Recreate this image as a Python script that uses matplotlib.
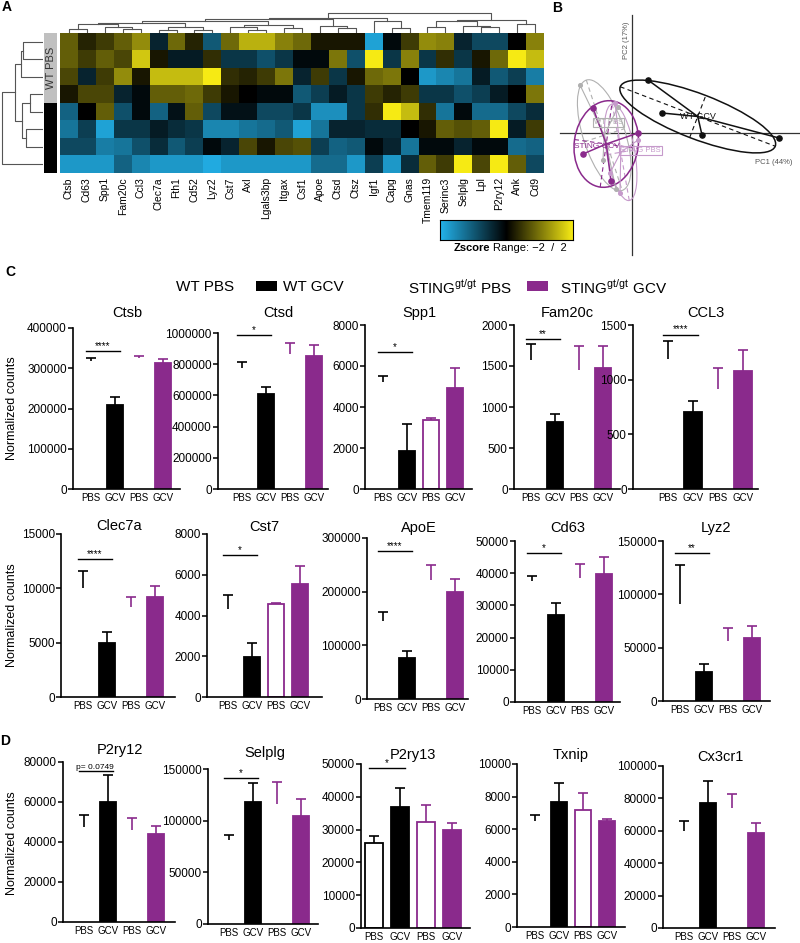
import matplotlib
matplotlib.use('Agg')
import matplotlib.pyplot as plt
import numpy as np
from matplotlib.colors import LinearSegmentedColormap, ListedColormap
from matplotlib.patches import Ellipse, Rectangle
from matplotlib.ticker import FuncFormatter

plt.rcParams['font.family'] = ['Liberation Sans', 'DejaVu Sans']
plt.rcParams['mathtext.fontset'] = 'custom'
plt.rcParams['mathtext.rm'] = 'Liberation Sans'
plt.rcParams['axes.linewidth'] = 1.2

PURPLE = '#8a2a8c'

# ---------------- A: heatmap data ----------------
heat_genes = ['Ctsb', 'Cd63', 'Spp1', 'Fam20c', 'Ccl3', 'Clec7a', 'Fth1', 'Cd52', 'Lyz2',
              'Cst7', 'Axl', 'Lgals3bp', 'Itgax', 'Csf1', 'Apoe', 'Ctsd', 'Ctsz', 'Igf1',
              'Capg', 'Gnas', 'Tmem119', 'Serinc3', 'Selplg', 'Lpl', 'P2ry12', 'Ank', 'Cd9']
zscores = [
    [0.8, 0.3, 0.5, 0.8, 1.2, -0.4, 0.9, 0.3, -1.0, 0.9, 1.5, 1.5, 1.1, 0.9, 0.2, 0.2, 0.2, -1.8, -0.1, 0.5, 1.2, 1.1, -0.4, -0.8, -0.8, 0.0, 1.1],
    [0.8, 0.5, 0.8, 0.6, 1.7, 0.2, -0.3, -0.3, 0.4, -0.6, -0.6, -0.9, -0.6, -0.1, -0.1, 1.0, -0.9, 2.0, -0.6, 1.1, -0.6, 0.4, -0.6, 0.2, 0.9, 2.0, 1.6],
    [0.6, -0.4, 0.5, 1.2, 0.2, 1.6, 1.6, 1.6, 2.0, 0.4, 0.3, 0.5, 1.0, -0.4, 0.5, -0.6, 0.2, 0.9, 1.0, 0.0, -1.7, -1.5, -1.3, -0.3, -1.0, -0.7, -1.4],
    [0.2, 0.6, 0.6, -0.4, -0.1, 0.8, 0.8, 0.9, 0.5, 0.2, 0.0, -0.1, -0.1, -1.0, -0.7, -0.3, -0.6, 0.5, 0.3, 0.5, -0.6, -0.6, -0.9, -0.7, -0.3, 0.0, 1.0],
    [-1.1, 0.0, 0.8, -0.9, -0.1, -1.1, -0.2, 0.8, -0.8, -0.2, -0.2, -0.8, -0.8, -0.6, -1.6, -1.6, -0.6, 0.4, 2.0, 1.6, 0.4, -1.3, -0.1, -1.2, -1.2, -0.8, -0.5],
    [-1.3, -0.7, -1.8, -0.6, -0.6, -0.3, -0.5, -0.6, -1.5, -1.5, -1.3, -1.2, -1.0, -1.8, -1.3, -0.4, -0.4, -0.5, -0.5, 0.0, 0.2, 0.8, 0.7, 0.8, 2.0, -0.3, 0.5],
    [-0.8, -0.8, -1.4, -1.3, -0.9, -0.5, -1.0, -0.7, -0.1, -0.4, 0.6, 0.2, 0.6, 0.7, -0.7, -1.1, -1.0, -0.1, -0.4, -1.3, -0.1, -0.1, -0.4, -0.1, -0.1, -1.2, -1.1],
    [-1.7, -1.7, -1.7, -1.1, -1.5, -1.7, -1.7, -1.7, -1.9, -1.7, -1.7, -1.7, -1.7, -1.7, -1.2, -1.2, -1.7, -0.7, -1.7, -0.5, 0.8, 0.5, 2.0, 0.6, 2.0, 0.8, -0.8],
]
row_groups = [0, 0, 0, 0, 1, 1, 1, 1]   # 0 = WT PBS, 1 = WT GCV

# dendrogram merges: (child a, child b, height); ids >= n are earlier merges
col_merges = [(0, 1, .19), (3, 4, .19), (2, 28, .29), (27, 29, .42), (5, 6, .17), (7, 8, .17),
              (31, 32, .29), (30, 33, .5), (10, 11, .17), (9, 35, .27), (12, 13, .23), (36, 37, .37),
              (15, 16, .23), (14, 39, .35), (34, 38, .58), (41, 40, .67), (18, 19, .23), (17, 43, .6),
              (42, 44, .73), (20, 21, .29), (23, 24, .27), (22, 47, .35), (46, 48, .58), (25, 26, .42),
              (49, 50, .65), (45, 51, 1.0)]
row_merges = [(0, 1, .48), (8, 2, .54), (3, 4, .32), (5, 6, .42), (10, 11, .52), (9, 12, .68), (13, 7, 1.0)]

# ---------------- B: PCA data ----------------
pca_groups = ['WT PBS', 'STING PBS', 'STING GCV', 'WT GCV']
pca_x = [[-5.2, -1.4, -2.9, -1.6], [-1.7, 0.6, -2.2, -1.2], [-3.9, 0.6, -4.9, -2.1], [1.6, 3.0, 7.0, 14.7]]
pca_y = [[4.8, 2.6, -2.7, -5.6], [3.0, -0.7, -4.0, -6.0], [2.5, 0.0, -2.1, -4.8], [5.3, 2.0, -0.2, -0.5]]

# ---------------- C/D: bar data ----------------
bar_genes = ['Ctsb', 'Ctsd', 'Spp1', 'Fam20c', 'CCL3', 'Clec7a', 'Cst7', 'ApoE', 'Cd63', 'Lyz2',
             'P2ry12', 'Selplg', 'P2ry13', 'Txnip', 'Cx3cr1']
wt_pbs = [318000, 775000, 5200, 1570, 1190, 10000, 4300, 145000, 37500, 91000, 47500, 81000, 26000, 6500, 60000]
wt_pbs_sd = [7000, 40000, 300, 200, 160, 1600, 700, 17000, 1500, 36500, 6000, 5000, 2000, 370, 6000]
wt_gcv = [209000, 612000, 1850, 820, 706, 4950, 1950, 76000, 27000, 27000, 60000, 118000, 37000, 7650, 77000]
wt_gcv_sd = [20000, 40000, 1300, 90, 95, 1050, 700, 13000, 3800, 8000, 13500, 18000, 5700, 1200, 13500]
st_pbs = [326000, 865000, 3350, 1450, 915, 8300, 4560, 222000, 38500, 56000, 46000, 116000, 32300, 7200, 74000]
st_pbs_sd = [5000, 70000, 130, 300, 195, 900, 60, 27000, 4300, 12000, 6000, 21000, 5300, 1000, 8500]
st_gcv = [313000, 855000, 4950, 1480, 1080, 9200, 5550, 199000, 39800, 59000, 43800, 104500, 29800, 6480, 58600]
st_gcv_sd = [10000, 65000, 950, 270, 195, 1050, 880, 24000, 5300, 11000, 4000, 16500, 2300, 150, 6000]
y_max = [400000, 1000000, 8000, 2000, 1500, 15000, 8000, 300000, 50000, 150000, 80000, 150000, 50000, 10000, 100000]
y_step = [100000, 200000, 2000, 500, 500, 5000, 2000, 100000, 10000, 50000, 20000, 50000, 10000, 2000, 20000]
sig_text = ['****', '*', '*', '**', '****', '****', '*', '****', '*', '**', 'p= 0.0749', '*', '*', '', '']
sig_y = [343000, 987000, 6680, 1830, 1413, 12700, 6960, 275000, 46200, 139000, 75500, 141000, 48800, 0, 0]
outline_wt = [False] * 12 + [True, False, False]
outline_st = [False, False, True, False, False, False, True, False, False, False, False, False, True, True, False]

# panel boxes in pixels: left, right, first bar centre, px per bar, top (y_max), zero, title y
layout = [
    (73, 180, 91, 24, 328, 489, 313), (218, 328, 242, 24, 333, 489, 313), (365, 472, 383, 24, 325, 489, 313),
    (514, 620, 531, 24, 325, 489, 313), (633, 758, 668, 25, 325, 489, 313),
    (61, 175, 83, 24, 534, 697, 526), (207, 322, 228, 24, 534, 697, 527), (367, 468, 383, 24, 538, 699, 528),
    (515, 620, 532, 24, 541, 702, 528), (663, 770, 680, 24, 541, 701, 528),
    (63, 175, 84, 24, 762, 922, 750), (208, 318, 229, 24, 769, 924, 753), (361, 470, 374, 26, 764, 928, 755),
    (517, 625, 535, 24, 764, 927, 755), (663, 775, 684, 24, 766, 928, 757),
]

W, H = 800, 943
fig = plt.figure(figsize=(W / 100, H / 100), dpi=100)


def fx(x):
    return x / W


def fy(y):
    return 1 - y / H


def px_axes(l, t, r, b):
    return fig.add_axes([l / W, 1 - b / H, (r - l) / W, (b - t) / H])


def draw_dendro(ax, merges, n, top):
    pos = {i: float(i) for i in range(n)}
    hgt = {i: 0.0 for i in range(n)}
    for k, (a, b, h) in enumerate(merges):
        xs = [pos[a], pos[a], pos[b], pos[b]]
        ys = [hgt[a], h, h, hgt[b]]
        if top:
            ax.plot(xs, ys, color='#555555', lw=0.8)
        else:
            ax.plot(ys, xs, color='#555555', lw=0.8)
        pos[n + k] = (pos[a] + pos[b]) / 2
        hgt[n + k] = h


# ============ A ============
zcmap = LinearSegmentedColormap.from_list('zs', ['#23b3ec', '#000000', '#f6ea14'])
ax_h = px_axes(60, 33, 544, 173)
ax_h.imshow(np.array(zscores), cmap=zcmap, vmin=-2, vmax=2, aspect='auto', interpolation='nearest')
ax_h.set_xticks(range(len(heat_genes)))
ax_h.set_xticklabels(heat_genes, rotation=90, fontsize=7.5)
ax_h.set_yticks([])
ax_h.tick_params(axis='x', length=0, pad=3)
for s in ax_h.spines.values():
    s.set_visible(False)

ax_dt = px_axes(60, 12, 544, 33)
draw_dendro(ax_dt, col_merges, len(heat_genes), True)
ax_dt.set_xlim(-0.5, len(heat_genes) - 0.5)
ax_dt.set_ylim(0, 1.03)
ax_dt.axis('off')

ax_dl = px_axes(1, 33, 43, 173)
draw_dendro(ax_dl, row_merges, len(zscores), False)
ax_dl.set_ylim(len(zscores) - 0.5, -0.5)
ax_dl.set_xlim(1.02, 0)
ax_dl.axis('off')

ax_rb = px_axes(44, 33, 57, 173)
ax_rb.imshow(np.array(row_groups)[:, None], cmap=ListedColormap(['#c0c0c0', '#000000']),
             aspect='auto', interpolation='nearest')
ax_rb.axis('off')
fig.text(fx(50.5), fy(68), 'WT PBS', rotation=90, ha='center', va='center', fontsize=8, color='#333333')

ax_cb = px_axes(440, 220, 573, 240)
ax_cb.imshow(np.linspace(-2, 2, 256)[None, :], cmap=zcmap, aspect='auto')
ax_cb.set_xticks([])
ax_cb.set_yticks([])
for s in ax_cb.spines.values():
    s.set_linewidth(0.8)
fig.text(fx(490), fy(248), 'Zscore', ha='right', va='center', fontsize=8, fontweight='bold')
fig.text(fx(493), fy(248), 'Range: \u22122  /  2', ha='left', va='center', fontsize=8)

# ============ B ============
ax_p = px_axes(555, 10, 800, 260)
ax_p.set_xlim(-7.7, 16.8)
ax_p.set_ylim(-12.7, 12.3)
ax_p.axis('off')
ax_p.plot([0, 0], [-12.2, 11.8], color='#333333', lw=0.9)
ax_p.plot([-7.2, 16.8], [0, 0], color='#333333', lw=0.9)
ax_p.text(-0.6, 9.3, 'PC2 (17%)', rotation=90, ha='center', va='center', fontsize=5.5, color='#555555')
ax_p.text(14.2, -2.9, 'PC1 (44%)', ha='center', va='center', fontsize=5.5, color='#555555')

pca_cols = ['#b0b0b0', '#c69acb', PURPLE, '#111111']
ell_w = [11.6, 9.8, 6.4, 16.6]
ell_h = [4.2, 2.8, 8.7, 4.5]
ell_a = [-72, -80, -8, -21]
label_dx = [0.4, 2.0, -0.9, 0.0]
label_dy = [1.3, 0.2, -0.3, 0.0]
label_fs = [5.5, 5.5, 6.0, 6.5]
for gi, name in enumerate(pca_groups):
    xs = np.array(pca_x[gi])
    ys = np.array(pca_y[gi])
    cx, cy = xs.mean(), ys.mean()
    col = pca_cols[gi]
    lw = 1.1 if gi >= 2 else 0.8
    for px_, py_ in zip(xs, ys):
        ax_p.plot([cx, px_], [cy, py_], color=col, lw=lw, zorder=3)
    ax_p.scatter(xs, ys, s=14 if gi >= 2 else 7, color=col, zorder=4)
    ax_p.add_patch(Ellipse((cx, cy), ell_w[gi], ell_h[gi], angle=ell_a[gi], fill=False,
                           ec=col, lw=lw, zorder=2))
    th = np.deg2rad(ell_a[gi])
    for half, ang in [(ell_w[gi] / 2, th), (ell_h[gi] / 2, th + np.pi / 2)]:
        ax_p.plot([cx - half * np.cos(ang), cx + half * np.cos(ang)],
                  [cy - half * np.sin(ang), cy + half * np.sin(ang)],
                  color=col, lw=0.8, ls=(0, (4, 3)), zorder=2)
    tx, ty_ = cx + label_dx[gi], cy + label_dy[gi]
    if gi < 2:
        ax_p.text(tx, ty_, name, ha='center', va='center', fontsize=label_fs[gi], color=col,
                  bbox=dict(boxstyle='square,pad=0.15', fc='none', ec=col, lw=0.8), zorder=5)
    else:
        ax_p.text(tx, ty_, name, ha='center', va='center', fontsize=label_fs[gi], color=col, zorder=5)

# ============ legend row ============
fig.text(fx(176), fy(287), 'WT PBS', ha='left', va='center', fontsize=11)
fig.patches.append(Rectangle((fx(256), fy(291)), fx(21), 10 / H, transform=fig.transFigure,
                             fc='black', ec='none'))
fig.text(fx(283), fy(287), 'WT GCV', ha='left', va='center', fontsize=11)
fig.text(fx(408), fy(287), r'STING$^{\mathrm{gt/gt}}$ PBS', ha='left', va='center', fontsize=11)
fig.patches.append(Rectangle((fx(527), fy(291)), fx(21), 10 / H, transform=fig.transFigure,
                             fc=PURPLE, ec='none'))
fig.text(fx(560), fy(287), r'STING$^{\mathrm{gt/gt}}$ GCV', ha='left', va='center', fontsize=11)

# ============ C / D bars ============
for i, gene in enumerate(bar_genes):
    l, r, c0, u, top, zero, ty = layout[i]
    ax = px_axes(l, top, r, zero)
    means = [wt_pbs[i], wt_gcv[i], st_pbs[i], st_gcv[i]]
    sds = [wt_pbs_sd[i], wt_gcv_sd[i], st_pbs_sd[i], st_gcv_sd[i]]
    faces = ['white', 'black', 'white', PURPLE]
    edges = ['black' if outline_wt[i] else 'white', 'black',
             PURPLE if outline_st[i] else 'white', PURPLE]
    ecols = ['black', 'black', PURPLE, PURPLE]
    x = np.arange(4)
    ax.bar(x, means, width=0.7, color=faces, edgecolor=edges, linewidth=1.3, zorder=2)
    for xi, m, s, c in zip(x, means, sds, ecols):
        eb = ax.errorbar(xi, m, yerr=[[0], [s]], color=c, capsize=3.5, lw=1.2, capthick=1.2,
                         zorder=3, clip_on=False)
        # upper error only: hide the cap drawn at the mean
        eb[1][0].set_visible(False)
    ax.set_xlim((l - c0) / u, (r - c0) / u)
    ax.set_ylim(0, y_max[i])
    ax.set_yticks(np.arange(0, y_max[i] + 1, y_step[i]))
    ax.yaxis.set_major_formatter(FuncFormatter(lambda v, p: f'{int(round(v))}'))
    ax.set_xticks(x)
    ax.set_xticklabels(['PBS', 'GCV', 'PBS', 'GCV'])
    ax.tick_params(axis='y', length=3.5, width=1.1, labelsize=8.5, pad=1)
    ax.tick_params(axis='x', length=0, labelsize=7, pad=3)
    ax.spines['top'].set_visible(False)
    ax.spines['right'].set_visible(False)
    ax.patch.set_alpha(0)
    if sig_text[i]:
        ax.plot([-0.2, 1.2], [sig_y[i]] * 2, color='black', lw=1.0, clip_on=False)
        if sig_text[i].startswith('p'):
            ax.text(0.45, sig_y[i], sig_text[i], ha='center', va='bottom', fontsize=6)
        else:
            ax.text(0.5, sig_y[i], sig_text[i], ha='center', va='bottom', fontsize=7)
    fig.text(fx(c0 + 1.5 * u), fy(ty), gene, ha='center', va='center', fontsize=10.5)

for yc in [408, 615, 843]:
    fig.text(fx(12), fy(yc), 'Normalized counts', rotation=90, ha='center', va='center', fontsize=9)

for letter, (lx, ly) in zip('ABCD', [(7, 7), (557, 8), (10, 272), (5, 741)]):
    fig.text(fx(lx), fy(ly), letter, ha='center', va='center', fontsize=10, fontweight='bold')

fig.savefig('out.png', dpi=100)
